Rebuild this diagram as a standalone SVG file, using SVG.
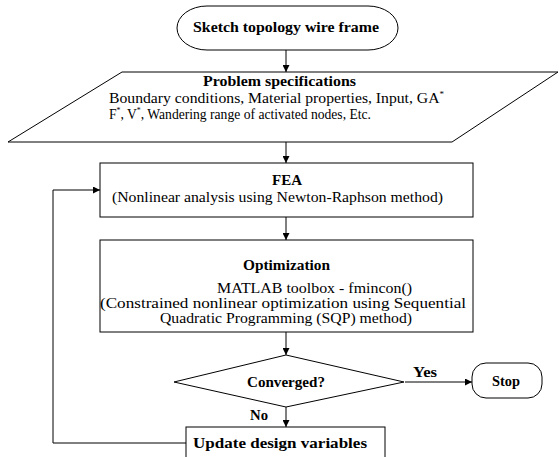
<svg xmlns="http://www.w3.org/2000/svg" width="559" height="457" viewBox="0 0 559 457">
<style>
.s{fill:#fff;stroke:#000;stroke-width:1}
.c{fill:none;stroke:#000;stroke-width:1}
.b{font-family:"Liberation Serif","Times New Roman",serif;font-weight:bold;font-size:14px;fill:#000}
.r{font-family:"Liberation Serif","Times New Roman",serif;font-size:14px;fill:#000}
.sup{font-size:8px}
</style>
<defs>
<marker id="ah" viewBox="0 0 8 8" refX="8" refY="4" markerWidth="7" markerHeight="7" markerUnits="userSpaceOnUse" orient="auto">
<path d="M0,0 L8,4 L0,8 Z" fill="#000"/>
</marker>
</defs>
<rect width="559" height="457" fill="#fff"/>
<g id="connectors">
<line class="c" x1="286" y1="50" x2="286" y2="72" marker-end="url(#ah)"/>
<line class="c" x1="286" y1="142" x2="286" y2="163" marker-end="url(#ah)"/>
<line class="c" x1="286" y1="217" x2="286" y2="240" marker-end="url(#ah)"/>
<line class="c" x1="286" y1="332" x2="286" y2="355" marker-end="url(#ah)"/>
<line class="c" x1="405" y1="382" x2="472" y2="382" marker-end="url(#ah)"/>
<line class="c" x1="286" y1="407" x2="286" y2="427" marker-end="url(#ah)"/>
<polyline class="c" points="186,443 53,443 53,190 100,190" marker-end="url(#ah)"/>
<text class="b" x="413" y="377" textLength="24" lengthAdjust="spacingAndGlyphs">Yes</text>
<text class="b" x="250" y="420" textLength="18" lengthAdjust="spacingAndGlyphs">No</text>
</g>
<g id="start">
<path class="s" d="M207,6 H368 A30 22 0 0 1 368,50 H207 A30 22 0 0 1 207,6 Z"/>
<text class="b" x="193" y="32" textLength="186" lengthAdjust="spacingAndGlyphs">Sketch topology wire frame</text>
</g>
<g id="spec">
<polygon class="s" points="122,72 558,72 452,142 8,142"/>
<text class="b" x="203" y="86" textLength="153" lengthAdjust="spacingAndGlyphs">Problem specifications</text>
<text class="r" x="109" y="103" textLength="335" lengthAdjust="spacingAndGlyphs">Boundary conditions, Material properties, Input, GA<tspan class="sup" dy="-6">*</tspan></text>
<text class="r" x="109" y="119" textLength="262" lengthAdjust="spacingAndGlyphs">F<tspan class="sup" dy="-6">*</tspan><tspan dy="6">, V</tspan><tspan class="sup" dy="-6">*</tspan><tspan dy="6">, Wandering range of activated nodes, Etc.</tspan></text>
</g>
<g id="fea">
<rect class="s" x="100" y="163" width="373" height="54"/>
<text class="b" x="272" y="185" textLength="30" lengthAdjust="spacingAndGlyphs">FEA</text>
<text class="r" x="112" y="202" textLength="331" lengthAdjust="spacingAndGlyphs">(Nonlinear analysis using Newton-Raphson method)</text>
</g>
<g id="opt">
<rect class="s" x="100" y="240" width="373" height="92"/>
<text class="b" x="243" y="270" textLength="87" lengthAdjust="spacingAndGlyphs">Optimization</text>
<text class="r" x="217" y="293" textLength="195" lengthAdjust="spacingAndGlyphs">MATLAB toolbox - fmincon()</text>
<text class="r" x="100" y="308" textLength="366" lengthAdjust="spacingAndGlyphs">(Constrained nonlinear optimization using Sequential</text>
<text class="r" x="160" y="323" textLength="252" lengthAdjust="spacingAndGlyphs">Quadratic Programming (SQP) method)</text>
</g>
<g id="converged">
<polygon class="s" points="174,382 286,355 404,382 286,407"/>
<text class="b" x="247" y="387" textLength="78" lengthAdjust="spacingAndGlyphs">Converged?</text>
</g>
<g id="stop">
<rect class="s" x="472" y="363" width="70" height="35" rx="14" ry="14"/>
<text class="b" x="492" y="386" textLength="28" lengthAdjust="spacingAndGlyphs">Stop</text>
</g>
<g id="update">
<rect class="s" x="186" y="427" width="199" height="40"/>
<text class="b" x="193" y="448" textLength="174" lengthAdjust="spacingAndGlyphs">Update design variables</text>
</g>
</svg>
